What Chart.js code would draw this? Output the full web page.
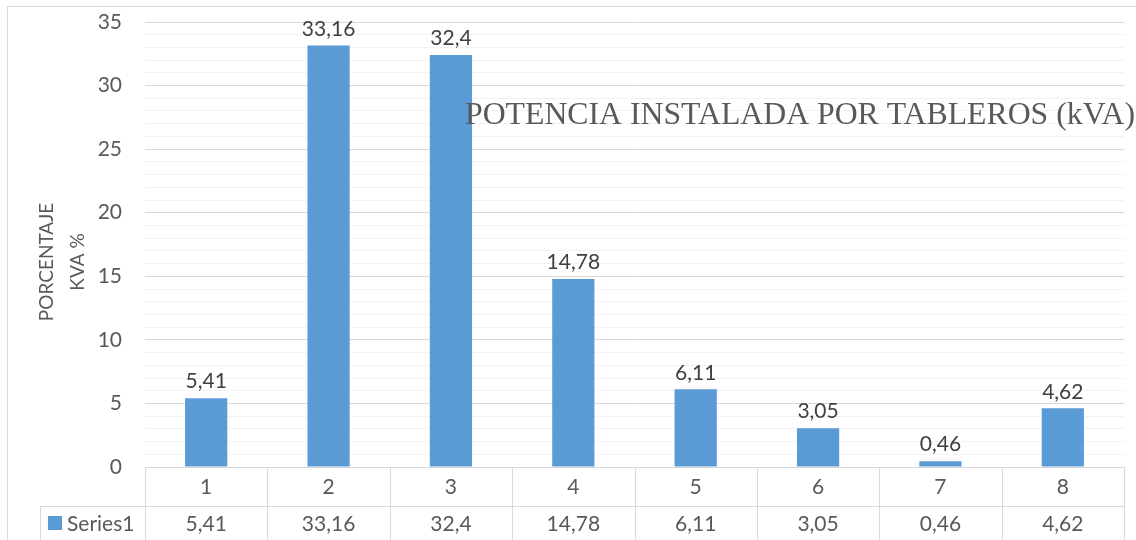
<!DOCTYPE html>
<html><head><meta charset="utf-8">
<script src="https://cdn.jsdelivr.net/npm/chart.js@4.4.1/dist/chart.umd.min.js"></script>
<style>html,body{margin:0;padding:0;background:#fff}#w{width:1136px;height:540px}</style>
</head><body><div id="w"><canvas id="c"></canvas></div>
<script>
const categories = ['1','2','3','4','5','6','7','8'];
const series1 = [5.41, 33.16, 32.4, 14.78, 6.11, 3.05, 0.46, 4.62];
const seriesName = 'Series1';
const labelsText = ['5,41','33,16','32,4','14,78','6,11','3,05','0,46','4,62'];
const chartTitle = 'POTENCIA INSTALADA POR TABLEROS (kVA)';
const yTitle = ['PORCENTAJE','KVA %'];

const FONT = 'Lato, "Open Sans", sans-serif';
const GRID = '#d9d9d9';

const custom = {
  id: 'custom',
  beforeDraw(chart) {
    const ctx = chart.ctx;
    ctx.save();
    ctx.strokeStyle = GRID; ctx.lineWidth = 1;
    ctx.strokeRect(7.5, 6.5, 1300, 700);
    ctx.restore();
  },
  afterDraw(chart) {
    const ctx = chart.ctx, ca = chart.chartArea, x = chart.scales.x;
    const meta = chart.getDatasetMeta(0);
    ctx.save();
    // data labels
    ctx.font = '21px ' + FONT; ctx.fillStyle = '#404040';
    ctx.textAlign = 'center'; ctx.textBaseline = 'bottom';
    meta.data.forEach((b, i) => ctx.fillText(labelsText[i], b.x, b.y - 6));
    // table
    const n = categories.length;
    const w = (ca.right - ca.left) / n;
    const r1 = ca.bottom, r2 = ca.bottom + 39, r3 = 560;
    ctx.strokeStyle = GRID; ctx.lineWidth = 1;
    ctx.beginPath();
    ctx.moveTo(ca.left, Math.round(r1) + 0.5); ctx.lineTo(ca.right, Math.round(r1) + 0.5);
    ctx.moveTo(40, Math.round(r2) + 0.5); ctx.lineTo(ca.right, Math.round(r2) + 0.5);
    ctx.moveTo(40.5, r2); ctx.lineTo(40.5, r3);
    for (let i = 0; i <= n; i++) {
      const xx = Math.round(ca.left + i * w) + 0.5;
      ctx.moveTo(xx, r1); ctx.lineTo(xx, r3);
    }
    ctx.stroke();
    ctx.font = '21px ' + FONT; ctx.fillStyle = '#595959'; ctx.textBaseline = 'middle';
    categories.forEach((c, i) => {
      const cx = x.getPixelForValue(i);
      ctx.fillText(c, cx, (r1 + r2) / 2 + 1);
      ctx.fillText(labelsText[i], cx, r2 + 18);
    });
    // legend key
    ctx.fillStyle = '#5b9bd5'; ctx.fillRect(48, 516, 14, 14);
    ctx.fillStyle = '#595959'; ctx.textAlign = 'left';
    ctx.fillText(seriesName, 67, r2 + 18);
    // y title
    ctx.save();
    ctx.translate(47, 262); ctx.rotate(-Math.PI / 2);
    ctx.font = '19px ' + FONT; ctx.textAlign = 'center'; ctx.textBaseline = 'middle';
    ctx.fillText(yTitle[0], 0, 0);
    ctx.fillText(yTitle[1], 0, 31);
    ctx.restore();
    // chart title
    ctx.save();
    ctx.font = '32px "Liberation Serif", "Times New Roman", serif';
    ctx.fillStyle = '#595959'; ctx.textAlign = 'left'; ctx.textBaseline = 'alphabetic';
    const tw = ctx.measureText(chartTitle).width;
    const sx = 670 / tw;
    ctx.translate(465, 124); ctx.scale(sx, 1);
    ctx.fillText(chartTitle, 0, 0);
    ctx.restore();
    ctx.restore();
  }
};

new Chart(document.getElementById('c'), {
  type: 'bar',
  data: { labels: categories, datasets: [{ label: seriesName, data: series1, backgroundColor: '#5b9bd5',
    categoryPercentage: 1, barPercentage: 0.345 }] },
  options: {
    responsive: true, maintainAspectRatio: false, animation: false,
    layout: { padding: { left: 0, right: 12, top: 22, bottom: 73 } },
    plugins: { legend: { display: false }, tooltip: { enabled: false } },
    scales: {
      x: { display: false },
      y: {
        min: 0, max: 35,
        afterFit(s) { s.width = 145; s.paddingTop = 0; s.paddingBottom = 0; },
        border: { display: false },
        grid: { drawTicks: false, color: c => (c.tick && c.tick.value % 5 === 0) ? GRID : '#f2f2f2' },
        ticks: { stepSize: 1, autoSkip: false, padding: 23, color: '#595959', font: { family: FONT, size: 21 },
          callback: v => v % 5 === 0 ? String(v) : '' }
      }
    }
  },
  plugins: [custom]
});
</script>
</body></html>
